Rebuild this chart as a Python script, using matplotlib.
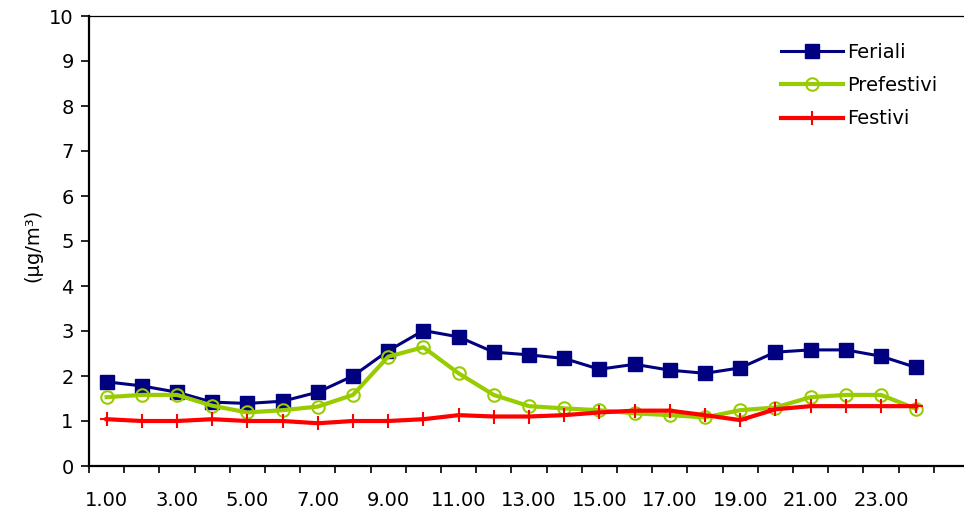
import matplotlib
matplotlib.use("Agg")
import matplotlib.pyplot as plt

HOURS = [f"{h}.00" for h in range(1, 25)]

FERIALI = [1.87, 1.78, 1.64, 1.42, 1.39, 1.44, 1.64, 2.00, 2.56, 3.01, 2.87, 2.53,
           2.47, 2.39, 2.15, 2.26, 2.13, 2.06, 2.18, 2.53, 2.58, 2.58, 2.44, 2.19]

PREFESTIVI = [1.53, 1.58, 1.58, 1.34, 1.19, 1.24, 1.32, 1.58, 2.43, 2.64, 2.06, 1.58,
              1.33, 1.28, 1.24, 1.17, 1.13, 1.08, 1.24, 1.30, 1.53, 1.58, 1.58, 1.27]

FESTIVI = [1.04, 1.00, 1.00, 1.04, 1.00, 1.00, 0.95, 1.00, 1.00, 1.04, 1.13, 1.10,
           1.10, 1.13, 1.19, 1.23, 1.23, 1.13, 1.02, 1.26, 1.33, 1.33, 1.33, 1.33]

Y_TICKS = list(range(0, 11))


def main():

    plt.rcParams["font.family"] = ["DejaVu Sans"]

    fig = plt.figure(figsize=(9.64, 5.17), dpi=100)

    ax = fig.add_axes([89 / 964, 51 / 517, 875 / 964, 450 / 517])

    x = list(range(len(HOURS)))

    # blu sotto, verde in mezzo, rosso sopra
    ax.plot(
        x, FERIALI,
        color="#000080", linewidth=2.2,
        marker="s", markersize=10.5,
        label="Feriali"
    )

    ax.plot(
        x, PREFESTIVI,
        color="#99CC00", linewidth=3,
        marker="o", markersize=9,
        markerfacecolor="none", markeredgewidth=1.5,
        label="Prefestivi"
    )

    ax.plot(
        x, FESTIVI,
        color="#FF0000", linewidth=3,
        marker="+", markersize=10, markeredgewidth=1.5,
        label="Festivi"
    )

    ax.set_ylim(0, 10)
    ax.set_yticks(Y_TICKS)
    ax.set_xlim(-0.5, 24.36)

    # tacche ai bordi delle categorie, etichette una sì una no
    ax.set_xticks([i - 0.5 for i in range(len(HOURS) + 1)])
    ax.set_xticklabels([])
    ax.set_xticks(x[::2], minor=True)
    ax.set_xticklabels(HOURS[::2], minor=True)

    ax.tick_params(axis="x", which="major", length=5, width=1.2, direction="out")
    ax.tick_params(axis="x", which="minor", length=0, pad=18, labelsize=14)
    ax.tick_params(axis="y", length=6, width=1.2, pad=5, labelsize=14)

    ax.spines["right"].set_visible(False)
    ax.spines["left"].set_linewidth(1.6)
    ax.spines["bottom"].set_linewidth(1.6)
    ax.spines["top"].set_linewidth(0.9)

    ax.set_ylabel("(µg/m³)", fontsize=14)
    ax.yaxis.set_label_coords(-0.053, 0.49)

    ax.legend(
        loc="upper left",
        bbox_to_anchor=(781 / 964, 1 - 43 / 517),
        bbox_transform=fig.transFigure,
        frameon=False,
        fontsize=14,
        numpoints=1,
        handlelength=3.2,
        handletextpad=0.2,
        labelspacing=0.73,
        borderpad=0,
        borderaxespad=0
    )

    fig.savefig("out.png", dpi=100)


if __name__ == "__main__":
    main()
